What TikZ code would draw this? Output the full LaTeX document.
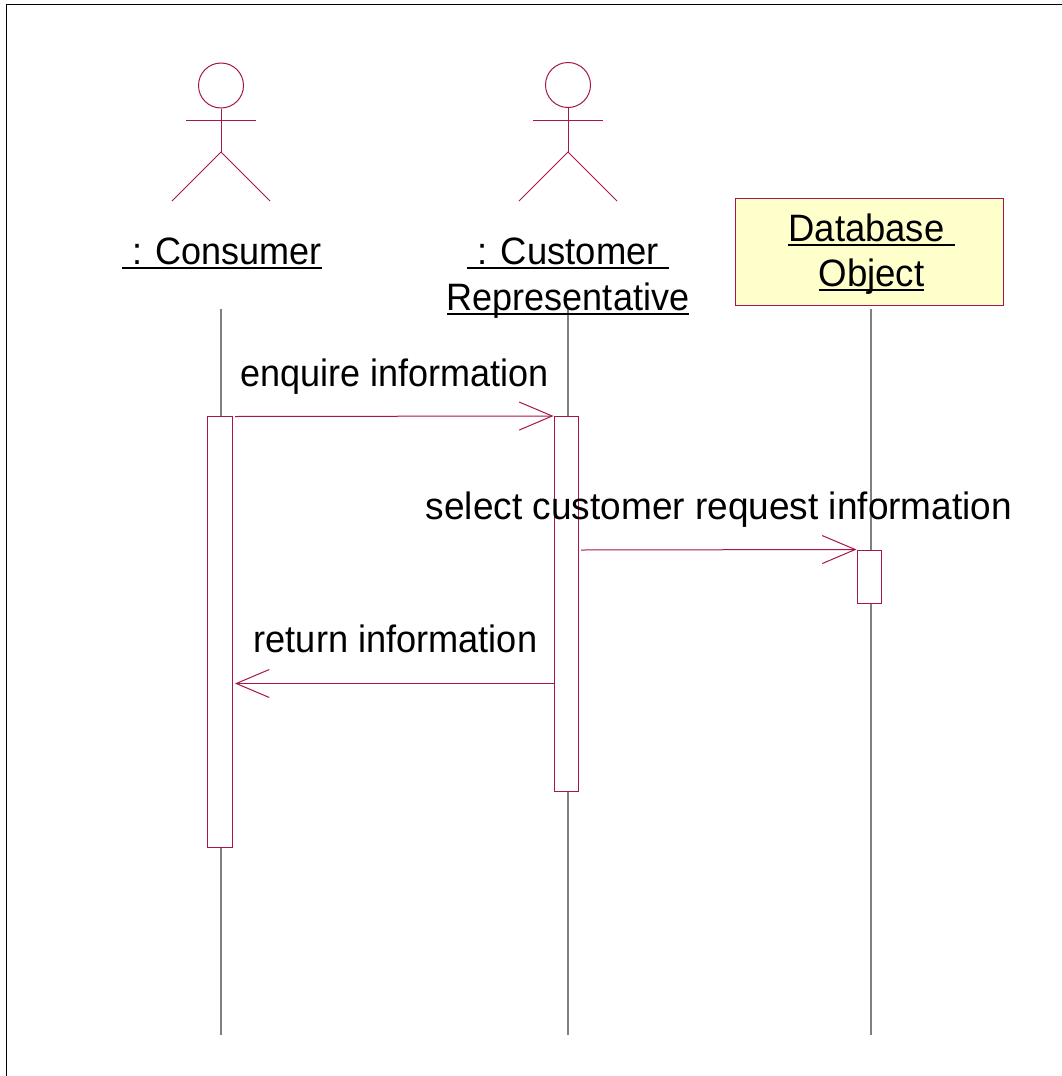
\documentclass[tikz,border=0pt]{standalone}
\usepackage{fontspec}
\usepackage{graphicx}
\setmainfont{Liberation Sans}
\usetikzlibrary{arrows.meta}
\definecolor{umlred}{HTML}{A8144C}
\definecolor{umlgrey}{HTML}{808080}
\definecolor{umlfill}{HTML}{FFFFCC}
\newcommand\ulx[2][1]{\setbox0\hbox{\scalebox{#1}[1.06]{#2}}\rlap{\rule[-4.6pt]{\wd0}{2pt}}\box0}
\newcommand\msgtext[2][1]{\scalebox{#1}[1.06]{#2}}
\tikzset{
  x=1pt,y=-1pt,
  umlline/.style={draw=umlred,line width=1pt},
  lifeline/.style={draw=umlgrey,line width=1.2pt},
  activation/.style={umlline,fill=white,rectangle,inner sep=0pt,minimum width=24.5pt},
  msg/.style={umlline,-{Straight Barb[length=33pt,width=28pt,line width=1pt]}},
  label/.style={inner sep=0pt,anchor=base,font=\fontsize{36}{36}\selectfont},
}
\begin{document}
\begin{tikzpicture}
\useasboundingbox (0,0) rectangle (1062,1076);
\fill[white] (0,0) rectangle (1062,1076);
\coordinate (frameTL) at (6.5,4.5);
\coordinate (frameTR) at (1062,4.5);
\coordinate (frameBL) at (6.5,1076);
\draw[black,line width=1pt] (frameBL) -- (frameTL) -- (frameTR);

% lifelines
\coordinate (l1t) at (221,309); \coordinate (l1b) at (221,1035);
\coordinate (l2t) at (568,309); \coordinate (l2b) at (568,1035);
\coordinate (l3t) at (871,309); \coordinate (l3b) at (871,1035);
\draw[lifeline] (l1t) -- (l1b);
\draw[lifeline] (l2t) -- (l2b);
\draw[lifeline] (l3t) -- (l3b);

% actors
\foreach \n/\cx/\cy in {A/221/85.5,B/568/85}{
  \node[umlline,circle,inner sep=0pt,minimum size=45pt] (head\n) at (\cx,\cy) {};
  \coordinate (hip\n) at (\cx,152);
  \coordinate (armL\n) at (\cx-35,120.5);
  \coordinate (armR\n) at (\cx+35,120.5);
  \coordinate (legL\n) at (\cx-49,201);
  \coordinate (legR\n) at (\cx+49,201);
  \draw[umlline] (head\n.south) -- (hip\n);
  \draw[umlline] (armL\n) -- (armR\n);
  \draw[umlline] (legL\n) -- (hip\n) -- (legR\n);
}

% database object
\node[umlline,fill=umlfill,rectangle,inner sep=0pt,minimum width=268pt,minimum height=107pt] (db) at (869.5,251.5) {};

% activations
\node[activation,minimum height=431pt] (ca) at (219.75,632) {};
\node[activation,minimum height=375pt] (cu) at (566.25,604) {};
\node[activation,minimum height=53pt] (da) at (869.25,576.5) {};

% messages
\coordinate (ret) at (554,683.5);
\coordinate (retEnd) at (235,683.5);
\coordinate (selStart) at (581,550);
\coordinate (enqStart) at (235,416.5);
\draw[msg] (enqStart) -- (cu.north west);
\draw[msg] (selStart) -- (da.north west);
\draw[msg] (ret) -- (retEnd);

% labels
\node[label] (t1) at (222,264) {\ulx{\ : Consumer}};
\node[label] (t2) at (568,264) {\ulx[1.012]{\ : Customer\ }};
\node[label] (t3) at (568,310) {\ulx{Representative}};
\node[label] (t4) at (871.5,241) {\ulx[1.012]{Database\ }};
\node[label] (t5) at (871.5,286) {\ulx[1.018]{Object}};
\node[label] (m1) at (394.5,386) {\msgtext{enquire information}};
\node[label] (m2) at (719,519.5) {\msgtext[1.028]{select customer request information}};
\node[label] (m3) at (395.5,652) {\msgtext[1.005]{return information}};
\end{tikzpicture}
\end{document}
